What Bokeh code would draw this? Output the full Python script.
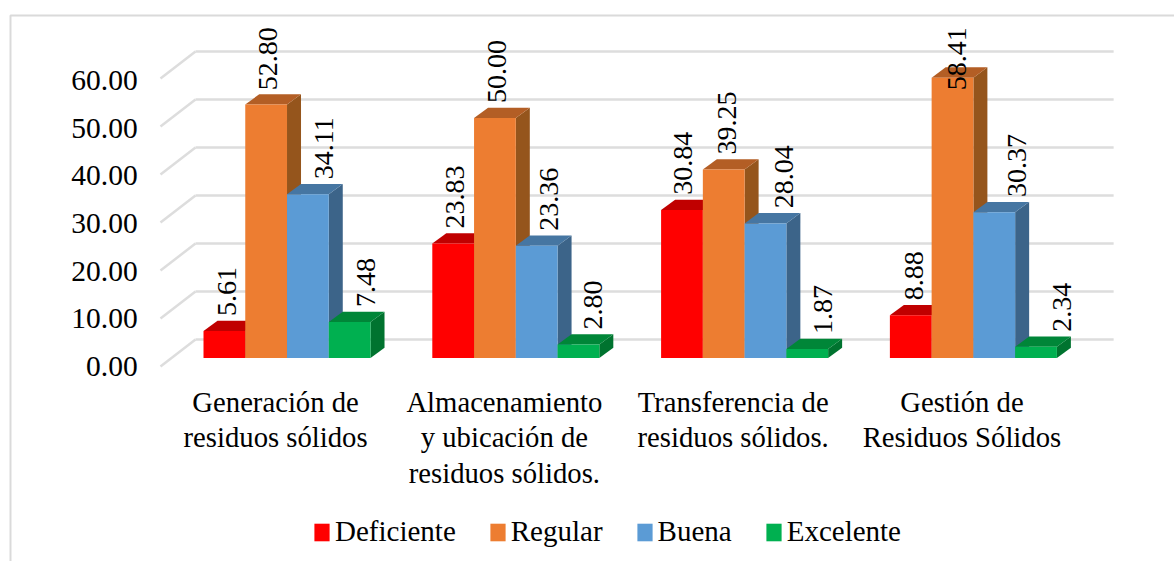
from bokeh.plotting import figure
from bokeh.embed import file_html
from bokeh.resources import INLINE
from bokeh.models import (Range1d, LinearAxis, FixedTicker, Legend, LegendItem, BoxAnnotation)
from bokeh.core.properties import value
import math

categories = ["Generación de\nresiduos sólidos",
              "Almacenamiento\ny ubicación de\nresiduos sólidos.",
              "Transferencia de\nresiduos sólidos.",
              "Gestión de\nResiduos Sólidos"]
series_names = ["Deficiente", "Regular", "Buena", "Excelente"]
deficiente = [5.61, 23.83, 30.84, 8.88]
regular = [52.80, 50.00, 39.25, 58.41]
buena = [34.11, 23.36, 28.04, 30.37]
excelente = [7.48, 2.80, 1.87, 2.34]
y_ticks = [0, 10, 20, 30, 40, 50, 60]

front_colors = ["#FF0000", "#ED7D31", "#5B9BD5", "#00B050"]
top_colors = ["#C00000", "#B35E25", "#4676A2", "#008638"]
side_colors = ["#A80000", "#95551C", "#3C6489", "#00732F"]
FONT = "'Liberation Serif', 'Times New Roman', serif"
GRID = "#DDDDDD"

all_series = [deficiente, regular, buena, excelente]
BAR_W = 0.1825
DX, DY = 0.0612, 2.15           # 3-D depth of a bar in data units
WALL_DY, FLOOR_DY = 3.85, -1.77 # rear wall and front floor edge relative to the bars' plane
X_FLOOR, X_WALL, X_END = -0.553, -0.40, 3.613
LABEL_CAP = 55.8
X0, X1 = -1.2523, 3.879
Y0, Y1 = -42.4, 74.48
# horizontal nudge of each value label from its bar's centre, per series then group (px)
label_nudge_px = [[3, 2, 1, 3], [2, 2, 3, 4], [16, 12, 19, 23], [16, 15, 16, 26]]
PX_PER_X = 1174 / (X1 - X0)

p = figure(width=1174, height=561, output_backend="svg", toolbar_location=None,
           x_range=Range1d(X0, X1), y_range=Range1d(Y0, Y1),
           min_border_left=0, min_border_right=0, min_border_top=0, min_border_bottom=0,
           x_axis_type=None, y_axis_type=None)
p.outline_line_color = None
p.grid.visible = False
p.background_fill_color = "white"

# outer chart frame
p.add_layout(BoxAnnotation(left=10, right=1400, top=15, bottom=900,
                           left_units="canvas", right_units="canvas",
                           top_units="canvas", bottom_units="canvas",
                           fill_alpha=0, line_color="#DADADA", line_alpha=1, line_width=2,
                           level="underlay"))

# wall grid lines
p.segment(x0=[X_FLOOR] * len(y_ticks), y0=[v + FLOOR_DY for v in y_ticks],
          x1=[X_WALL] * len(y_ticks), y1=[v + WALL_DY for v in y_ticks],
          line_color=GRID, line_width=2.5)
p.segment(x0=[X_WALL] * len(y_ticks), y0=[v + WALL_DY for v in y_ticks],
          x1=[X_END] * len(y_ticks), y1=[v + WALL_DY for v in y_ticks],
          line_color=GRID, line_width=2.5)

items = []
for k, (name, vals) in enumerate(zip(series_names, all_series)):
    left = [g + (k - 2) * BAR_W for g in range(len(vals))]
    right = [l + BAR_W for l in left]
    p.patches(xs=[[r, r + DX, r + DX, r] for r in right],
              ys=[[0, DY, v + DY, v] for v in vals],
              fill_color=side_colors[k], line_color=None)
    p.patches(xs=[[l, l + DX, r + DX, r] for l, r in zip(left, right)],
              ys=[[v, v + DY, v + DY, v] for v in vals],
              fill_color=top_colors[k], line_color=None)
    r = p.quad(left=left, right=right, bottom=[0] * len(vals), top=vals,
               fill_color=front_colors[k], line_color=None)
    items.append(LegendItem(label=name, renderers=[r]))

# value labels
lx, ly, lt = [], [], []
for k, vals in enumerate(all_series):
    for g, v in enumerate(vals):
        lx.append(g + (k - 1.5) * BAR_W + label_nudge_px[k][g] / PX_PER_X)
        ly.append(min(v + DY + 1.0, LABEL_CAP))
        lt.append(f"{v:.2f}")
p.text(x=lx, y=ly, text=lt, angle=math.pi / 2, text_align="left", text_baseline="middle",
       text_font=value(FONT), text_font_size="28px", text_color="black")

# category labels (own line height, which an axis label does not offer)
p.text(x=[g - 0.05 for g in range(len(categories))], y=[-5.9] * len(categories), text=categories,
       text_align="center", text_baseline="top", text_line_height=1.1,
       text_font=value(FONT), text_font_size="28.7px", text_color="black")

# value axis on a shifted range: its labels sit on the front floor plane
p.extra_y_ranges = {"front": Range1d(-40.88, 76.73)}
y_axis = LinearAxis(y_range_name="front", ticker=FixedTicker(ticks=y_ticks), fixed_location=-0.596)
y_axis.major_label_overrides = {v: f"{v:.2f}" for v in y_ticks}
y_axis.axis_line_color = None
y_axis.major_tick_line_color = None
y_axis.minor_tick_line_color = None
y_axis.major_tick_out = 0
y_axis.major_tick_in = 0
y_axis.major_label_standoff = 13
y_axis.major_label_text_font = FONT
y_axis.major_label_text_font_size = "29.5px"
y_axis.major_label_text_color = "black"
p.add_layout(y_axis, "left")

legend = Legend(items=items, orientation="horizontal", location=(312, 13),
                glyph_width=19, glyph_height=22, label_standoff=4, spacing=32,
                label_text_font=FONT, label_text_font_size="29px", label_text_color="black",
                border_line_color=None, background_fill_alpha=0, margin=0, padding=0)
p.add_layout(legend, "center")

open("out.html", "w").write(file_html(p, INLINE))
